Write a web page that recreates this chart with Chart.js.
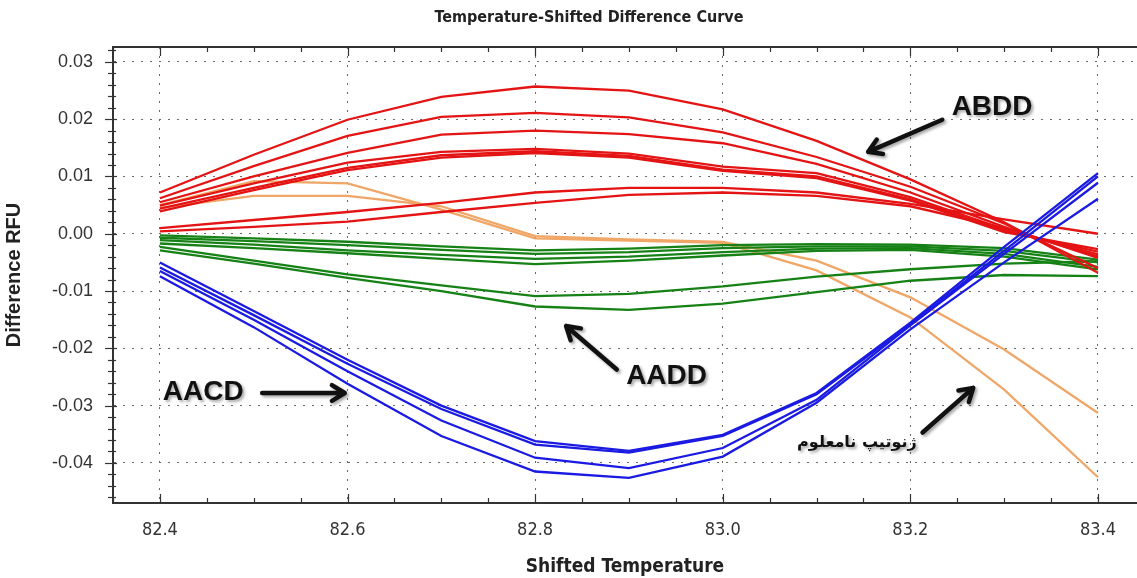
<!DOCTYPE html>
<html><head><meta charset="utf-8">
<script src="https://cdn.jsdelivr.net/npm/chart.js@4.4.0/dist/chart.umd.min.js"></script>
<style>html,body{margin:0;padding:0;background:#fff}#wrap{width:1137px;height:578px;position:relative}</style>
</head><body><div id="wrap"><canvas id="c" width="1137" height="578"></canvas></div>
<script>
// ---- data ----
const temps = [82.4, 82.5, 82.6, 82.7, 82.8, 82.9, 83.0, 83.1, 83.2, 83.3, 83.4];
const xTickLabels = [82.4, 82.6, 82.8, 83.0, 83.2, 83.4];
const yTickLabels = [0.03, 0.02, 0.01, 0.00, -0.01, -0.02, -0.03, -0.04];

// ABDD (red)
const abdd1 = [0.0072, 0.0138, 0.0199, 0.0239, 0.0257, 0.0250, 0.0217, 0.0162, 0.0095, 0.0020, -0.0068];
const abdd2 = [0.0062, 0.0118, 0.0171, 0.0204, 0.0211, 0.0203, 0.0177, 0.0134, 0.0082, 0.0018, -0.0060];
const abdd3 = [0.0055, 0.0100, 0.0141, 0.0173, 0.0180, 0.0174, 0.0158, 0.0122, 0.0072, 0.0012, -0.0042];
const abdd4 = [0.0049, 0.0088, 0.0124, 0.0143, 0.0148, 0.0140, 0.0117, 0.0106, 0.0064, 0.0008, -0.0036];
const abdd5 = [0.0044, 0.0080, 0.0115, 0.0137, 0.0144, 0.0136, 0.0112, 0.0100, 0.0060, 0.0005, -0.0031];
const abdd6 = [0.0039, 0.0076, 0.0111, 0.0133, 0.0141, 0.0133, 0.0110, 0.0097, 0.0058, 0.0003, -0.0027];
const abdd7 = [0.0010, 0.0024, 0.0038, 0.0054, 0.0072, 0.0080, 0.0080, 0.0072, 0.0052, 0.0025, 0.0000];
const abdd8 = [0.0004, 0.0012, 0.0021, 0.0038, 0.0054, 0.0068, 0.0072, 0.0066, 0.0048, 0.0010, -0.0040];

// AADD (green)
const aadd1 = [-0.0003, -0.0008, -0.0014, -0.0022, -0.0029, -0.0026, -0.0020, -0.0018, -0.0019, -0.0025, -0.0045];
const aadd2 = [-0.0007, -0.0013, -0.0020, -0.0028, -0.0035, -0.0032, -0.0025, -0.0022, -0.0022, -0.0030, -0.0050];
const aadd3 = [-0.0011, -0.0019, -0.0029, -0.0037, -0.0044, -0.0040, -0.0032, -0.0026, -0.0025, -0.0035, -0.0058];
const aadd4 = [-0.0017, -0.0025, -0.0034, -0.0044, -0.0053, -0.0047, -0.0038, -0.0030, -0.0028, -0.0040, -0.0062];
const aadd5 = [-0.0023, -0.0047, -0.0071, -0.0090, -0.0109, -0.0105, -0.0092, -0.0075, -0.0062, -0.0052, -0.0048];
const aadd6 = [-0.0029, -0.0052, -0.0077, -0.0100, -0.0127, -0.0133, -0.0122, -0.0102, -0.0082, -0.0072, -0.0074];

// AACD (blue)
const aacd1 = [-0.0050, -0.0135, -0.0220, -0.0300, -0.0362, -0.0379, -0.0351, -0.0278, -0.0155, -0.0023, 0.0106];
const aacd2 = [-0.0059, -0.0142, -0.0227, -0.0306, -0.0368, -0.0382, -0.0353, -0.0280, -0.0158, -0.0030, 0.0100];
const aacd3 = [-0.0065, -0.0150, -0.0240, -0.0326, -0.0391, -0.0409, -0.0374, -0.0290, -0.0160, -0.0035, 0.0089];
const aacd4 = [-0.0074, -0.0163, -0.0262, -0.0353, -0.0415, -0.0426, -0.0389, -0.0295, -0.0167, -0.0050, 0.0061];

// unknown genotype (orange)
const unknown1 = [0.0050, 0.0092, 0.0088, 0.0042, -0.0008, -0.0012, -0.0016, -0.0064, -0.0146, -0.0272, -0.0425];
const unknown2 = [0.0045, 0.0066, 0.0066, 0.0048, -0.0004, -0.0010, -0.0014, -0.0047, -0.0111, -0.0202, -0.0313];

// ---- styling ----
const RED = 'rgb(228,20,20)', GREEN = 'rgb(22,130,22)', BLUE = 'rgb(26,26,226)', ORANGE = 'rgb(240,166,102)';
const groups = [
  {series: [aacd1, aacd2, aacd3, aacd4], color: BLUE, order: 0},
  {series: [abdd1, abdd2, abdd3, abdd4, abdd5, abdd6, abdd7, abdd8], color: RED, order: 1},
  {series: [aadd1, aadd2, aadd3, aadd4, aadd5, aadd6], color: GREEN, order: 2},
  {series: [unknown1, unknown2], color: ORANGE, order: 3}
];
const datasets = [];
groups.forEach(g => g.series.forEach(s => datasets.push({
  data: temps.map((t, i) => ({x: t, y: s[i]})),
  borderColor: g.color, borderWidth: 2.3, pointRadius: 0, tension: 0, fill: false, order: g.order
})));

const NARROW = "'Liberation Sans Narrow', 'Arial Narrow', 'DejaVu Sans Condensed', Arial, sans-serif";
const ARIAL = "Arial, 'Liberation Sans', sans-serif";

const annotations = [
  {text: 'ABDD', x: 83.244, y: 0.0208, align: 'left', font: "bold 28px " + ARIAL,
   arrow: [83.234, 0.0199, 83.155, 0.0143]},
  {text: 'AACD', x: 82.403, y: -0.0290, align: 'left', font: "bold 28px " + ARIAL,
   arrow: [82.509, -0.0278, 82.597, -0.0278]},
  {text: 'AADD', x: 82.897, y: -0.0262, align: 'left', font: "bold 28px " + ARIAL,
   arrow: [82.887, -0.0237, 82.833, -0.0161]},
  {text: 'ژنوتیپ نامعلوم', x: 83.143, y: -0.0372, align: 'center', font: "bold 16px 'DejaVu Sans', sans-serif",
   arrow: [83.213, -0.0347, 83.267, -0.0269]}
];

const decor = {
  id: 'decor',
  beforeDraw(chart) {
    const ctx = chart.ctx;
    ctx.save(); ctx.fillStyle = '#fff'; ctx.fillRect(0, 0, chart.width, chart.height); ctx.restore();
  },
  afterDraw(chart) {
    const ctx = chart.ctx, xs = chart.scales.x, ys = chart.scales.y, a = chart.chartArea;
    ctx.save();
    // top axis line
    ctx.strokeStyle = '#333'; ctx.lineWidth = 2;
    ctx.beginPath(); ctx.moveTo(a.left, a.top); ctx.lineTo(a.right, a.top); ctx.stroke();
    ctx.lineWidth = 1.2;
    // x ticks (top & bottom)
    for (let k = 0; k <= 22; k++) {
      const v = 82.35 + k * 0.05;
      if (v > xs.max) break;
      const px = Math.round(xs.getPixelForValue(v)) + 0.5;
      const major = Math.abs(((v - 82.4) / 0.2) - Math.round((v - 82.4) / 0.2)) < 1e-6;
      const len = major ? 9 : 5;
      ctx.beginPath();
      ctx.moveTo(px, a.top); ctx.lineTo(px, a.top + len);
      ctx.moveTo(px, a.bottom); ctx.lineTo(px, a.bottom - len);
      ctx.stroke();
    }
    // y ticks (left)
    for (let k = -23; k <= 16; k++) {
      const v = k * 0.002;
      if (v < ys.min || v > ys.max) continue;
      const py = Math.round(ys.getPixelForValue(v)) + 0.5;
      const major = k % 5 === 0;
      ctx.beginPath();
      if (major) { ctx.moveTo(a.left - 8, py); ctx.lineTo(a.left + 4, py); }
      else { ctx.moveTo(a.left - 5, py); ctx.lineTo(a.left + 3, py); }
      ctx.stroke();
    }
    // title
    ctx.fillStyle = '#222';
    ctx.font = "bold 16px " + NARROW;
    ctx.textAlign = 'center'; ctx.textBaseline = 'middle';
    ctx.fillText('Temperature-Shifted Difference Curve', 589, 18);
    // annotations
    annotations.forEach(an => {
      const tx = xs.getPixelForValue(an.x), ty = ys.getPixelForValue(an.y);
      ctx.save();
      ctx.shadowColor = 'rgba(0,0,0,0.35)'; ctx.shadowBlur = 3; ctx.shadowOffsetX = 2; ctx.shadowOffsetY = 2;
      ctx.fillStyle = '#111'; ctx.font = an.font; ctx.textAlign = an.align; ctx.textBaseline = 'alphabetic';
      ctx.fillText(an.text, tx, ty);
      const [x1v, y1v, x2v, y2v] = an.arrow;
      const x1 = xs.getPixelForValue(x1v), y1 = ys.getPixelForValue(y1v);
      const x2 = xs.getPixelForValue(x2v), y2 = ys.getPixelForValue(y2v);
      const ang = Math.atan2(y2 - y1, x2 - x1), hl = 15, ha = 0.55;
      ctx.strokeStyle = '#111'; ctx.lineWidth = 4.5; ctx.lineCap = 'round'; ctx.lineJoin = 'round';
      ctx.beginPath();
      ctx.moveTo(x1, y1); ctx.lineTo(x2, y2);
      ctx.moveTo(x2 - hl * Math.cos(ang - ha), y2 - hl * Math.sin(ang - ha));
      ctx.lineTo(x2, y2);
      ctx.lineTo(x2 - hl * Math.cos(ang + ha), y2 - hl * Math.sin(ang + ha));
      ctx.stroke();
      ctx.restore();
    });
    ctx.restore();
  }
};

new Chart(document.getElementById('c'), {
  type: 'line',
  data: {datasets},
  options: {
    responsive: false, animation: false, devicePixelRatio: 1,
    layout: {padding: {left: 0, right: 0, top: 47, bottom: 0}},
    plugins: {legend: {display: false}, tooltip: {enabled: false}, title: {display: false}},
    scales: {
      x: {
        type: 'linear', min: 82.35, max: 83.4416,
        afterBuildTicks: s => { s.ticks = xTickLabels.map(v => ({value: v})); },
        afterFit: s => { s.height = 75; },
        ticks: {callback: v => Number(v).toFixed(1), font: {family: NARROW, size: 18}, color: '#333', padding: 17, maxRotation: 0, autoSkip: false},
        grid: {color: '#6a6a6a', lineWidth: 1, drawTicks: false},
        border: {display: true, color: '#333', width: 2, dash: [2, 7]},
        title: {display: true, text: 'Shifted Temperature', font: {family: NARROW, size: 19, weight: 'bold'}, color: '#222', padding: {top: 0, bottom: 0}}
      },
      y: {
        type: 'linear', min: -0.047, max: 0.0326,
        afterBuildTicks: s => { s.ticks = yTickLabels.map(v => ({value: v})); },
        afterFit: s => { s.width = 113; },
        ticks: {callback: v => Number(v).toFixed(2), font: {family: ARIAL, size: 18}, color: '#333', padding: 20},
        grid: {color: '#6a6a6a', lineWidth: 1, drawTicks: false},
        border: {display: true, color: '#333', width: 2, dash: [2, 7]},
        title: {display: true, text: 'Difference RFU', font: {family: ARIAL, size: 20, weight: 'bold'}, color: '#222', padding: {top: 2, bottom: 0}}
      }
    }
  },
  plugins: [decor]
});
</script>
</body></html>
